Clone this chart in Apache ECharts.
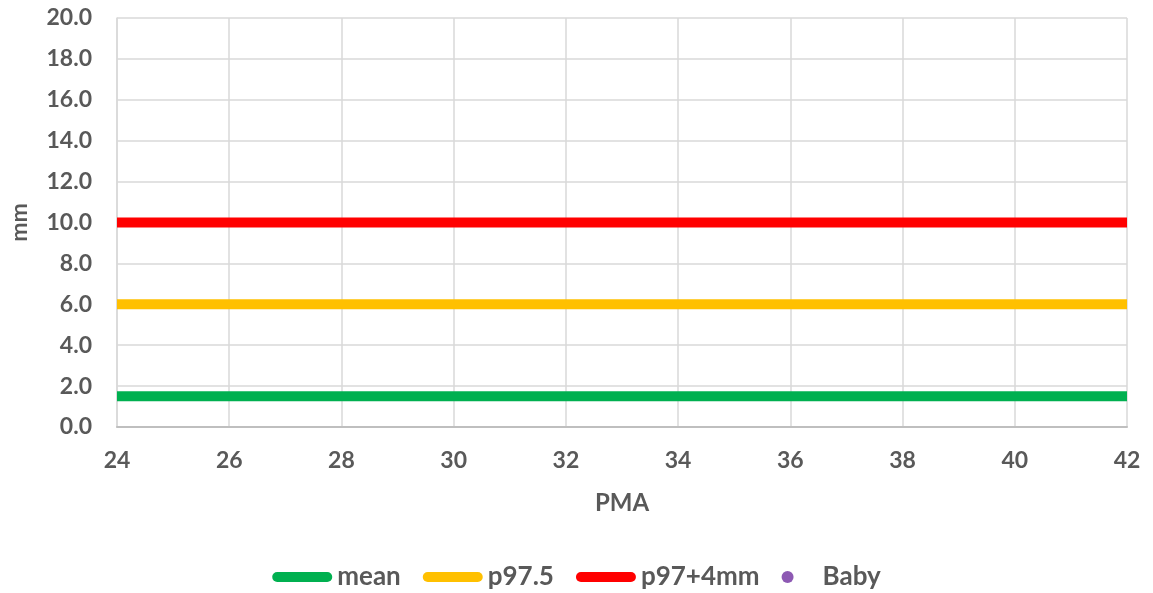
<!DOCTYPE html>
<html>
<head>
<meta charset="utf-8">
<script src="https://cdn.jsdelivr.net/npm/echarts@6/dist/echarts.min.js"></script>
<style>
  html, body { margin: 0; padding: 0; background: #fff; }
  #chart { width: 1153px; height: 593px; }
</style>
</head>
<body>
<div id="chart"></div>
<script>
// Reference lines across the PMA range (weeks) and their values (mm)
const pmaRange = [24, 42];
const meanValues = [1.5, 1.5];
const p975Values = [6.0, 6.0];
const p97plus4Values = [10.0, 10.0];
const babyPoints = [];

const seriesNames = ['mean', 'p97.5', 'p97+4mm', 'Baby'];
const seriesColors = ['#00B050', '#FFC000', '#FF0000', '#7030A0'];

const textColor = '#595959';
const fontFamily = 'Lato, "Noto Sans", sans-serif';
// rounded pill used as the legend swatch of each line series
const pillIcon = 'path://M5,0 H55 A5,5 0 0 1 55,10 H5 A5,5 0 0 1 5,0 Z';

function pairs(xs, ys) {
  return xs.map((x, i) => [x, ys[i]]);
}

function refLine(name, values, color) {
  return {
    name: name,
    type: 'line',
    data: pairs(pmaRange, values),
    showSymbol: false,
    symbol: 'none',
    lineStyle: { color: color, width: 10, cap: 'butt' },
    itemStyle: { color: color },
    animation: false
  };
}

const chart = echarts.init(document.getElementById('chart'));
chart.setOption({
  backgroundColor: '#ffffff',
  animation: false,
  grid: { left: 112, right: 26, top: 18, bottom: 166, containLabel: false },
  legend: {
    top: 559,
    left: 'center',
    itemWidth: 60,
    itemHeight: 12,
    itemGap: 22,
    textStyle: { color: textColor, fontFamily: fontFamily, fontWeight: 'bold', fontSize: 26 },
    data: [
      { name: seriesNames[0], icon: pillIcon },
      { name: seriesNames[1], icon: pillIcon },
      { name: seriesNames[2], icon: pillIcon },
      { name: seriesNames[3], icon: 'circle' }
    ]
  },
  xAxis: {
    type: 'value',
    min: 24,
    max: 42,
    interval: 2,
    name: 'PMA',
    nameLocation: 'middle',
    nameGap: 64,
    nameTextStyle: { color: textColor, fontFamily: fontFamily, fontWeight: 'bold', fontSize: 24 },
    axisLine: { show: true, lineStyle: { color: '#BFBFBF', width: 2 } },
    axisTick: { show: false },
    axisLabel: { color: textColor, fontFamily: fontFamily, fontWeight: 'bold', fontSize: 23, margin: 22 },
    splitLine: { show: true, lineStyle: { color: '#D9D9D9', width: 1.5 } }
  },
  yAxis: {
    type: 'value',
    min: 0,
    max: 20,
    interval: 2,
    name: 'mm',
    nameLocation: 'middle',
    nameRotate: 90,
    nameGap: 86,
    nameTextStyle: { color: textColor, fontFamily: fontFamily, fontWeight: 'bold', fontSize: 23 },
    axisLine: { show: true, lineStyle: { color: '#D9D9D9', width: 1.5 } },
    axisTick: { show: false },
    axisLabel: {
      color: textColor, fontFamily: fontFamily, fontWeight: 'bold', fontSize: 23, margin: 25,
      formatter: v => v.toFixed(1)
    },
    splitLine: { show: true, lineStyle: { color: '#D9D9D9', width: 1.5 } }
  },
  series: [
    refLine(seriesNames[0], meanValues, seriesColors[0]),
    refLine(seriesNames[1], p975Values, seriesColors[1]),
    refLine(seriesNames[2], p97plus4Values, seriesColors[2]),
    {
      name: seriesNames[3],
      type: 'scatter',
      data: babyPoints,
      symbolSize: 12,
      itemStyle: { color: seriesColors[3] }
    }
  ]
});
</script>
</body>
</html>
